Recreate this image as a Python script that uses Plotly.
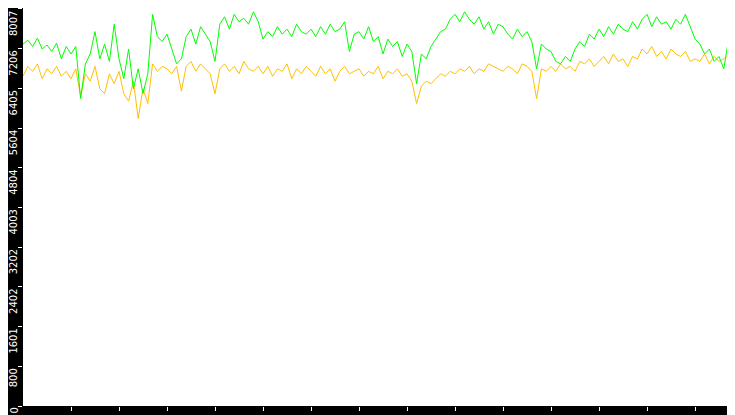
import pandas as pd
import plotly.graph_objects as go

# samples every 6 s from 14:00:00, last point at 14:15:00
green = [
    7300, 7380, 7250, 7420, 7200, 7280, 7150, 7320, 7000, 7250,
    7100, 7250, 6200, 6900, 7100, 7550, 7000, 7300, 6950, 7700,
    7000, 6600, 7200, 6400, 6800, 6300, 6700, 7900, 7450, 7350,
    7500, 7200, 6900, 7000, 7450, 7600, 7300, 7650, 7500, 7350,
    6950, 7700, 7850, 7600, 7900, 7750, 7820, 7700, 7950, 7750,
    7400, 7550, 7450, 7650, 7500, 7600, 7450, 7700, 7550, 7500,
    7600, 7450, 7650, 7500, 7700, 7550, 7600, 7750, 7150, 7500,
    7550, 7400, 7650, 7350, 7450, 7100, 7400, 7250, 7350, 7050,
    7300, 7150, 6500, 7100, 7000, 7250, 7400, 7550, 7600, 7800,
    7900, 7750, 7950, 7800, 7700, 7850, 7600, 7750, 7500, 7700,
    7650, 7500, 7400, 7600, 7450, 7550, 7350, 6800, 7300, 7200,
    7150, 6950, 6900, 7050, 6950, 7200, 7350, 7250, 7500, 7400,
    7600, 7450, 7650, 7500, 7700, 7600, 7550, 7750, 7600, 7800,
    7900, 7650, 7850, 7700, 7750, 7600, 7800, 7700, 7900, 7650,
    7400, 7300, 7100, 7200, 6950, 7050, 6800, 7400, 7650, 7700,
    3400,
]
orange = [
    6650, 6850, 6750, 6900, 6600, 6800, 6700, 6850, 6650, 6750,
    6600, 6800, 6250, 6700, 6550, 6850, 6400, 6300, 6700, 6500,
    6750, 6300, 6150, 6550, 5800, 6400, 6100, 6900, 6750, 6850,
    6800, 6700, 6850, 6350, 6850, 6950, 6750, 6900, 6800, 6700,
    6300, 6800, 6900, 6750, 6850, 6700, 6950, 6800, 6750, 6850,
    6700, 6850, 6650, 6800, 6750, 6900, 6600, 6800, 6700, 6850,
    6750, 6650, 6850, 6700, 6800, 6550, 6750, 6850, 6700, 6750,
    6800, 6650, 6750, 6700, 6850, 6600, 6750, 6700, 6800, 6650,
    6700, 6550, 6100, 6450, 6550, 6500, 6600, 6700, 6650, 6750,
    6700, 6800, 6750, 6850, 6700, 6800, 6750, 6900, 6850, 6800,
    6750, 6850, 6800, 6700, 6900, 6850, 6750, 6200, 6800, 6750,
    6850, 6750, 6900, 6800, 6850, 6750, 6950, 6900, 7000, 6850,
    6950, 7050, 6900, 7100, 6950, 7000, 6850, 7050, 7000, 7200,
    7100, 7250, 7050, 7150, 7000, 7200, 7100, 7050, 7150, 6950,
    7000, 6950, 7100, 6900, 7050, 6950, 7000, 7100, 6950, 7050,
    0,
]
y_ticks = [0, 800, 1601, 2402, 3202, 4003, 4804, 5604, 6405, 7206, 8007]
x_ticks = [f"2024-01-01 14:{m:02d}:00" for m in range(1, 15)]
x_labels = [f"14:{m:02d}" for m in range(1, 15)]

times = pd.date_range("2024-01-01 14:00:00", periods=len(green), freq="6s")

fig = go.Figure()
fig.add_trace(go.Scatter(x=times, y=orange, mode="lines",
                         line=dict(color="#FFC000", width=1)))
fig.add_trace(go.Scatter(x=times, y=green, mode="lines",
                         line=dict(color="#00FF00", width=1)))

for v in y_ticks:
    fig.add_annotation(x=0, xref="paper", y=v, yref="y", text=str(v),
                       textangle=-90, showarrow=False, xanchor="right",
                       yanchor="top", xshift=-2,
                       font=dict(color="white", size=10, family="DejaVu Sans"))

fig.update_layout(
    width=735, height=415, showlegend=False,
    margin=dict(l=15, r=0, t=0, b=17, pad=0, autoexpand=False),
    paper_bgcolor="black", plot_bgcolor="white",
)
fig.update_xaxes(range=["2024-01-01 14:00:00", "2024-01-01 14:15:00"],
                 tickvals=x_ticks, ticktext=x_labels, showgrid=False,
                 zeroline=False, ticks="outside", ticklen=4, tickcolor="white",
                 automargin=False,
                 tickfont=dict(color="white", size=10, family="DejaVu Sans"))
fig.update_yaxes(range=[0, 8027], tickvals=y_ticks, showticklabels=False,
                 showgrid=False, zeroline=False, ticks="outside", ticklen=4,
                 tickcolor="white", automargin=False)

fig.write_html("out.html")
